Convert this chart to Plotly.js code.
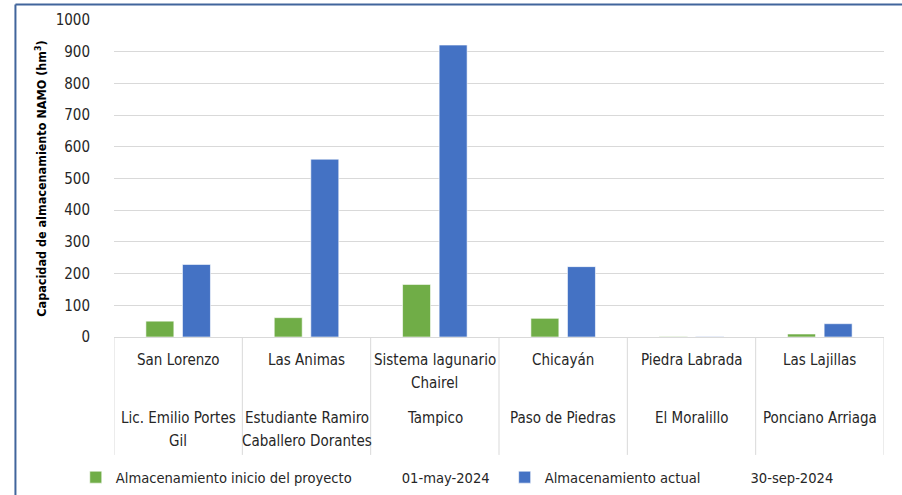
<!DOCTYPE html>
<html>
<head>
<meta charset="utf-8">
<script src="https://cdn.plot.ly/plotly-3.0.1.min.js"></script>
<style>
html,body{margin:0;padding:0;background:#fff;}
#chart{width:902px;height:495px;}
</style>
</head>
<body>
<div id="chart"></div>
<script>
// ---- data ----
var presas = ["San Lorenzo", "Las Animas", "Sistema lagunario<br>Chairel", "Chicayán", "Piedra Labrada", "Las Lajillas"];
var municipios = ["Lic. Emilio Portes<br>Gil", "Estudiante Ramiro<br>Caballero Dorantes", "Tampico", "Paso de Piedras", "El Moralillo", "Ponciano Arriaga"];
var inicioProyecto = [50, 61, 166, 59, 1.5, 9.5];
var almacenamientoActual = [229, 561, 921, 222, 1.2, 42];
var yTicks = [0, 100, 200, 300, 400, 500, 600, 700, 800, 900, 1000];
var nombreInicio = "Almacenamiento inicio del proyecto";
var fechaInicio = "01-may-2024";
var nombreActual = "Almacenamiento actual";
var fechaActual = "30-sep-2024";

var FONT = "'Liberation Sans Narrow', 'DejaVu Sans Condensed', 'Roboto Condensed', sans-serif";
var TXT = "#262626";
var idx = presas.map(function(_, i){ return i; });
function gap(n){ return "\u00a0".repeat(n); }

var traces = [
  {type:"bar", x: idx, y: inicioProyecto, name: nombreInicio + gap(12) + fechaInicio, legend:"legend",
   marker:{color:"#70AD47", line:{color:"rgba(255,255,255,0.6)", width:1}}, hoverinfo:"y"},
  {type:"bar", x: idx, y: almacenamientoActual, name: nombreActual + gap(12) + fechaActual, legend:"legend2",
   marker:{color:"#4472C4", line:{color:"rgba(255,255,255,0.6)", width:1}}, hoverinfo:"y"}
];

var annotations = [];
var shapes = [];
function addLines(labels, startPx){
  labels.forEach(function(lab, i){
    lab.split("<br>").forEach(function(line, k){
      annotations.push({x: i, xref:"x", y: 0, yref:"paper", yanchor:"middle", xanchor:"center",
        yshift: -(startPx + 23*k), text: line, showarrow:false,
        font:{family:FONT, size:15, color:TXT}});
    });
  });
}
addLines(presas, 23);
addLines(municipios, 81);

for (var b = 0; b <= presas.length; b++) {
  shapes.push({type:"line", xref:"x", yref:"paper", x0: b-0.5, x1: b-0.5, y0: 0, y1: -0.372,
    line:{color:"#d9d9d9", width:1}});
}
// chart border (left and top)
shapes.push({type:"line", xref:"paper", yref:"paper", x0:-0.128, x1:-0.128, y0:1.049, y1:-0.6,
  line:{color:"#41659c", width:2}});
shapes.push({type:"line", xref:"paper", yref:"paper", x0:-0.128, x1:1.05, y0:1.049, y1:1.049,
  line:{color:"#41659c", width:2}});

var legendBase = {orientation:"h", xanchor:"left", xref:"container", yref:"container", y:0.036, yanchor:"middle",
  font:{family:FONT, size:14.6, color:TXT}, bgcolor:"rgba(0,0,0,0)", borderwidth:0};

var layout = {
  width: 902, height: 495,
  margin:{l:114, r:18, t:20, b:158},
  paper_bgcolor:"#fff", plot_bgcolor:"#fff",
  font:{family:FONT, size:15, color:TXT},
  barmode:"group", bargap:0.43, bargroupgap:0.235,
  showlegend:true,
  legend: Object.assign({}, legendBase, {x:0.084}),
  legend2: Object.assign({}, legendBase, {x:0.5595}),
  xaxis:{type:"linear", range:[-0.5, presas.length-0.5], showticklabels:false, showgrid:false,
    zeroline:false, showline:false, ticks:"", fixedrange:true, automargin:false},
  yaxis:{range:[0, 1000], tickvals: yTicks, ticktext: yTicks.map(String), automargin:false,
    showgrid:true, gridcolor:"#d9d9d9", gridwidth:1, zeroline:true, zerolinecolor:"#d9d9d9", zerolinewidth:1,
    ticks:"outside", ticklen:20, tickcolor:"rgba(0,0,0,0)", showline:false,
    tickfont:{family:FONT, size:15, color:TXT},
    title:{text:"<b>Capacidad de almacenamiento NAMO (hm<sup>3</sup>)</b>", standoff:6,
      font:{family:FONT, size:12.5, color:"#000"}}, fixedrange:true},
  annotations: annotations,
  shapes: shapes
};

Plotly.newPlot("chart", traces, layout, {displayModeBar:false, staticPlot:true});
</script>
</body>
</html>
